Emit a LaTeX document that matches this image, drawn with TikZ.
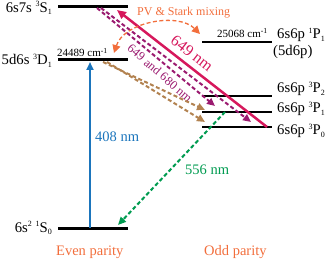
\documentclass[tikz,border=0pt]{standalone}
\usepackage{fontspec}
\setmainfont{Liberation Serif}
\usetikzlibrary{arrows.meta}
\definecolor{orangec}{RGB}{242,110,60}
\definecolor{redc}{RGB}{214,24,92}
\definecolor{purplec}{RGB}{155,27,112}
\definecolor{brownc}{RGB}{178,130,80}
\definecolor{bluec}{RGB}{27,117,188}
\definecolor{greenc}{RGB}{0,155,80}
\newcommand{\upx}[1]{\raisebox{5.5pt}{\fontsize{8}{8}\selectfont #1}}
\newcommand{\dnx}[1]{\raisebox{-2.5pt}{\fontsize{8}{8}\selectfont #1}}
\tikzset{
  lvl/.style={line width=3pt},
  lvlr/.style={line width=2.3pt},
  lab/.style={font=\fontsize{14.7}{16}\selectfont, inner sep=0pt},
  small/.style={font=\fontsize{11}{12}\selectfont, inner sep=0pt},
  wl/.style={font=\fontsize{14.5}{16}\selectfont, inner sep=0pt},
  dsh/.style={line width=2pt, dash pattern=on 4pt off 2.5pt, -{Triangle[length=8pt,width=7pt]}},
}
\begin{document}
\begin{tikzpicture}[x=1pt,y=-1pt]
\useasboundingbox (0,0) rectangle (328,261);
% levels
\coordinate (s1a) at (58,7);  \coordinate (s1b) at (128,7);
\coordinate (d1a) at (58,60); \coordinate (d1b) at (128,60);
\coordinate (s0a) at (58,228); \coordinate (s0b) at (128,228);
\coordinate (p1sa) at (202,42); \coordinate (p1sb) at (272,42);
\coordinate (p2a) at (202,96); \coordinate (p2b) at (272,96);
\coordinate (p1a) at (202,112); \coordinate (p1b) at (272,112);
\coordinate (p0a) at (202,127); \coordinate (p0b) at (272,127);
\draw[lvl] (s1a) -- (s1b);
\draw[lvl] (d1a) -- (d1b);
\draw[lvl] (s0a) -- (s0b);
\draw[lvlr] (p1sa) -- (p1sb);
\draw[lvlr] (p2a) -- (p2b);
\draw[lvlr] (p1a) -- (p1b);
\draw[lvlr] (p0a) -- (p0b);
% level labels
\node[lab, anchor=base east] (ls1) at (52,12.5) {6s7s \upx{3}S\dnx{1}};
\node[lab, anchor=base east] (ld1) at (52,65) {5d6s \upx{3}D\dnx{1}};
\node[lab, anchor=base east] (ls0) at (52,232) {6s\upx{2} \upx{1}S\dnx{0}};
\node[lab, anchor=base west] (lp1s) at (277,39) {6s6p \upx{1}P\dnx{1}};
\node[lab, anchor=base west] (l5d) at (273,56) {(5d6p)};
\node[lab, anchor=base west] (lp2) at (277,93) {6s6p \upx{3}P\dnx{2}};
\node[lab, anchor=base west] (lp1) at (277,113) {6s6p \upx{3}P\dnx{1}};
\node[lab, anchor=base west] (lp0) at (277,135) {6s6p \upx{3}P\dnx{0}};
\node[small, anchor=base west] (e1) at (57,57) {24489 cm\textsuperscript{-1}};
\node[small, anchor=base west] (e2) at (217,37.5) {25068 cm\textsuperscript{-1}};
% blue 408
\coordinate (bb) at (90,228); \coordinate (bt) at (90,62);
\draw[bluec, line width=2.5pt, -{Triangle[length=8pt,width=7pt]}] (bb) -- (bt);
\node[wl, bluec, anchor=base west] (t408) at (95,142) {408 nm};
% red 649
\coordinate (rb) at (267,127); \coordinate (rt) at (117,10);
\draw[redc, line width=2.5pt, -{Triangle[length=9pt,width=8pt]}] (rb) -- (rt);
\node[redc, font=\fontsize{16}{18}\selectfont, inner sep=0pt, rotate=-38] (t649) at (192,53) {649 nm};
% purple
\coordinate (pu1s) at (97,8); \coordinate (pu1e) at (215,106);
\coordinate (pu2s) at (101,8); \coordinate (pu2e) at (251,122);
\draw[purplec, dsh] (pu1s) -- (pu1e);
\draw[purplec, dsh] (pu2s) -- (pu2e);
\node[purplec, font=\fontsize{12.5}{14}\selectfont, inner sep=0pt, rotate=-41] (t680) at (160,73) {649 and 680 nm};
% brown
\coordinate (br1s) at (103,62); \coordinate (br1e) at (205,110);
\coordinate (br2s) at (107,62); \coordinate (br2e) at (205,122);
\draw[brownc, dsh] (br1s) -- (br1e);
\draw[brownc, dsh] (br2s) -- (br2e);
% green 556
\coordinate (gs) at (225,112); \coordinate (ge) at (118,225);
\draw[greenc, dsh] (gs) -- (ge);
\node[wl, greenc, anchor=base west] (t556) at (185,175) {556 nm};
% orange mixing
\coordinate (oa) at (114,53); \coordinate (ob) at (200,34);
\draw[orangec, line width=1.3pt, dash pattern=on 4pt off 2.5pt, {Triangle[length=8pt,width=8pt]}-{Triangle[length=8pt,width=8pt]}] (oa) .. controls (124,22) and (178,12) .. (ob);
\node[orangec, font=\fontsize{12}{14}\selectfont, inner sep=0pt, anchor=base west] (tpv) at (137,16) {PV \& Stark mixing};
% parity
\node[wl, orangec, anchor=base west] (ev) at (56,255) {Even parity};
\node[wl, orangec, anchor=base west] (od) at (204,255) {Odd parity};
\end{tikzpicture}
\end{document}
